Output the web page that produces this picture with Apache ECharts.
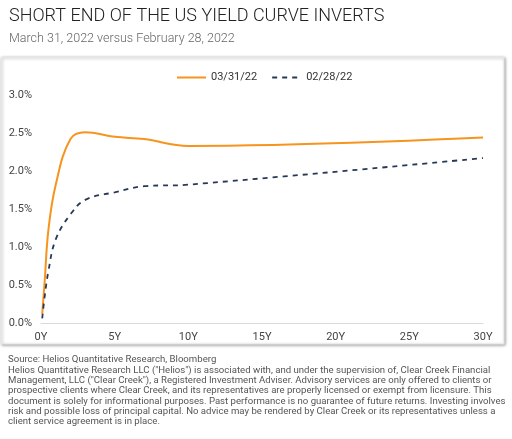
<!DOCTYPE html>
<html><head><meta charset="utf-8">
<script src="https://cdn.jsdelivr.net/npm/echarts@6/dist/echarts.min.js"></script>
<style>html,body{margin:0;padding:0;background:#fff;}#c{width:512px;height:439px;}</style>
</head><body><div id="c"></div>
<script>
var maturities = [0.083, 0.25, 0.5, 1, 2, 3, 5, 7, 10, 30];
var mar31 = [0.12, 0.55, 1.22, 1.82, 2.42, 2.51, 2.45, 2.42, 2.33, 2.44];
var feb28 = [0.06, 0.35, 0.68, 1.10, 1.43, 1.62, 1.72, 1.80, 1.82, 2.17];
var seriesNames = ['03/31/22', '02/28/22'];
var title = 'SHORT END OF THE US YIELD CURVE INVERTS';
var subtitle = 'March 31, 2022 versus February 28, 2022';
var footLines = [
 'Source: Helios Quantitative Research, Bloomberg',
 'Helios Quantitative Research LLC ("Helios") is associated with, and under the supervision of, Clear Creek Financial',
 'Management, LLC ("Clear Creek"), a Registered Investment Adviser. Advisory services are only offered to clients or',
 'prospective clients where Clear Creek, and its representatives are properly licensed or exempt from licensure. This',
 'document is solely for informational purposes. Past performance is no guarantee of future returns. Investing involves',
 'risk and possible loss of principal capital. No advice may be rendered by Clear Creek or its representatives unless a',
 'client service agreement is in place.'
];
function pairs(xs, ys){ return xs.map(function(x,i){ return [x, ys[i]]; }); }
var chart = echarts.init(document.getElementById('c'));
var graphics = [
 {type:'rect', shape:{x:1,y:57,width:503,height:287}, style:{fill:'#fff', stroke:'#e6e6e6', lineWidth:1, shadowBlur:3, shadowOffsetX:1, shadowOffsetY:1, shadowColor:'rgba(0,0,0,0.35)'}, z:-10},
 {type:'text', left:9, top:7, style:{text:title, font:'300 18px Roboto', fill:'#222'}},
 {type:'text', left:9, top:32, style:{text:subtitle, font:'300 12.5px Roboto', fill:'#666'}}
];
footLines.forEach(function(t,i){
 graphics.push({type:'text', left:8, top:355 + i*10.33, style:{text:t, font:'9.6px Roboto', fill:'#555'}});
});
chart.setOption({
 animation:false,
 graphic: graphics,
 legend:{top:67, left:171, itemGap:14, itemWidth:29, itemHeight:10, itemStyle:{opacity:0},
   textStyle:{fontSize:11, color:'#333', fontFamily:'Roboto'},
   data:[seriesNames[0], seriesNames[1]]},
 grid:{left:41, right:29, top:95, bottom:116},
 xAxis:{type:'value', min:0, max:30, interval:5,
   axisLine:{show:true, lineStyle:{color:'#d9d9d9', width:1}}, axisTick:{show:false}, splitLine:{show:false},
   axisLabel:{formatter:'{value}Y', color:'#444', fontSize:11, fontFamily:'Roboto', margin:9}},
 yAxis:{type:'value', min:0, max:3, interval:0.5,
   axisLine:{show:false}, axisTick:{show:false}, splitLine:{show:false},
   axisLabel:{formatter:function(v){return v.toFixed(1)+'%';}, color:'#444', fontSize:11, fontFamily:'Roboto', margin:9}},
 series:[
  {name:seriesNames[0], type:'line', smooth:0.4, symbol:'none', showSymbol:false, data:pairs(maturities, mar31),
   lineStyle:{color:'#F7941D', width:2}, itemStyle:{color:'#F7941D'}},
  {name:seriesNames[1], type:'line', smooth:0.4, symbol:'none', showSymbol:false, data:pairs(maturities, feb28),
   lineStyle:{color:'#263A57', width:1.8, type:[5,5]}, itemStyle:{color:'#263A57'}}
 ]
});
</script></body></html>
